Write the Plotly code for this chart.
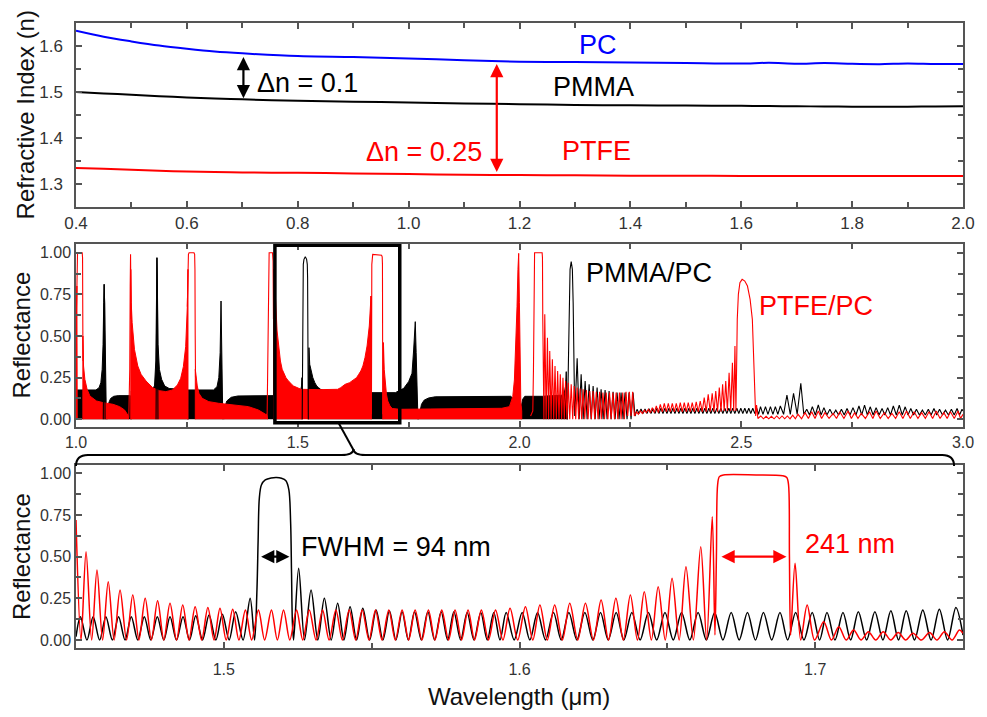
import plotly.graph_objects as go

FONT = "Liberation Sans, Arial, Helvetica, sans-serif"

# ---------------- DATA ----------------
# Top panel: refractive index dispersion
wl_index = [0.40, 0.45, 0.50, 0.55, 0.60, 0.65, 0.70, 0.80, 0.90, 1.00, 1.10, 1.20,
            1.30, 1.40, 1.50, 1.60, 1.65, 1.70, 1.75, 1.80, 1.85, 1.90, 1.95, 2.00]
n_pc = [1.633, 1.620, 1.610, 1.601, 1.594, 1.588, 1.584, 1.578, 1.576, 1.573, 1.569, 1.566,
        1.565, 1.564, 1.563, 1.562, 1.5635, 1.5615, 1.5628, 1.5612, 1.5605, 1.5618, 1.5608, 1.5610]
n_pmma = [1.500, 1.497, 1.494, 1.491, 1.488, 1.486, 1.484, 1.481, 1.479, 1.477, 1.475, 1.4735,
          1.472, 1.471, 1.4705, 1.470, 1.4695, 1.469, 1.4685, 1.468, 1.4682, 1.468, 1.4685, 1.469]
n_ptfe = [1.335, 1.333, 1.331, 1.329, 1.327, 1.326, 1.325, 1.3243, 1.323, 1.3215, 1.320, 1.3195,
          1.319, 1.318, 1.3178, 1.3175, 1.3174, 1.3174, 1.3174, 1.3174, 1.3174, 1.3174, 1.3174, 1.3174]

# Middle panel: dense (unresolved) fringe regions given as envelopes (wavelength, R)
pmma_mid_envelopes = [
    [(1.000, 0), (1.000, 0.17), (1.003, 0.176), (1.045, 0.176), (1.052, 0.19), (1.056, 0.22),
     (1.059, 0.30), (1.061, 0.45), (1.0625, 0.70), (1.0635, 0.81), (1.0645, 0.70), (1.0655, 0.45),
     (1.067, 0.15), (1.0685, 0)],
    [(1.070, 0), (1.071, 0.06), (1.074, 0.10), (1.078, 0.125), (1.085, 0.138), (1.095, 0.142),
     (1.1225, 0.142), (1.1235, 0)],
    [(1.1245, 0), (1.1245, 0.17), (1.170, 0.176), (1.177, 0.20), (1.180, 0.35), (1.1815, 0.80),
     (1.1825, 0.97), (1.1835, 0.80), (1.185, 0.45), (1.188, 0.30), (1.193, 0.24), (1.200, 0.20),
     (1.210, 0.185), (1.235, 0.18), (1.252, 0.18), (1.2525, 0)],
    [(1.253, 0), (1.253, 0.176), (1.310, 0.176), (1.318, 0.196), (1.322, 0.25), (1.325, 0.40),
     (1.327, 0.71), (1.3285, 0.40), (1.330, 0.05), (1.331, 0)],
    [(1.333, 0), (1.335, 0.07), (1.340, 0.11), (1.350, 0.132), (1.365, 0.14), (1.445, 0.142),
     (1.4455, 0)],
    [(1.446, 0), (1.446, 0.14), (1.505, 0.15), (1.5085, 0.20), (1.5095, 0.25), (1.510, 0.10),
     (1.510, 0)],
    [(1.5236, 0), (1.5245, 0.25), (1.5253, 0.43), (1.527, 0.33), (1.5295, 0.30), (1.534, 0.25),
     (1.5385, 0.22), (1.5427, 0.20), (1.547, 0.19), (1.5515, 0.18), (1.560, 0.17), (1.600, 0.16),
     (1.720, 0.16), (1.739, 0.186), (1.750, 0.226), (1.7576, 0.276), (1.7613, 0.416),
     (1.765, 0.586), (1.767, 0.40), (1.769, 0.15), (1.771, 0.02), (1.771, 0)],
    [(1.772, 0), (1.775, 0.04), (1.779, 0.09), (1.785, 0.115), (1.795, 0.128), (1.810, 0.135),
     (1.980, 0.138), (1.988, 0.12), (1.993, 0.06), (1.998, 0.04), (2.003, 0.06), (2.007, 0.12),
     (2.012, 0.138), (2.052, 0.138), (2.060, 0.14), (2.100, 0.145), (2.104, 0.20), (2.1054, 0.286),
     (2.107, 0.10), (2.108, 0)],
]
ptfe_mid_envelopes = [
    [(1.000, 0), (1.000, 0.50), (1.002, 0.80), (1.0028, 0)],
    [(1.0155, 0), (1.0155, 0.50), (1.017, 0.32), (1.020, 0.24), (1.025, 0.18), (1.0313, 0.14),
     (1.0462, 0.11), (1.0611, 0.10), (1.0834, 0.09), (1.0983, 0.076), (1.1095, 0.056),
     (1.1169, 0.026), (1.119, 0.01), (1.119, 0)],
    [(1.1235, 0), (1.1235, 0.90), (1.1245, 0.70), (1.1266, 0.58), (1.1318, 0.42), (1.1393, 0.32),
     (1.1467, 0.27), (1.1579, 0.23), (1.1728, 0.19), (1.1877, 0.172), (1.2026, 0.166),
     (1.2175, 0.176), (1.2287, 0.206), (1.2361, 0.246), (1.2421, 0.316), (1.2473, 0.436),
     (1.251, 0.676), (1.2525, 0.90), (1.2525, 0)],
    [(1.269, 0), (1.269, 0.30), (1.2734, 0.20), (1.2771, 0.156), (1.2845, 0.126), (1.2994, 0.106),
     (1.3218, 0.096), (1.359, 0.086), (1.3888, 0.076), (1.4112, 0.056), (1.4223, 0.036),
     (1.4276, 0.03), (1.431, 0.03), (1.432, 0)],
    [(1.4455, 0), (1.4455, 0.90), (1.4475, 0.80), (1.450, 0.72), (1.4534, 0.53), (1.4571, 0.42),
     (1.4609, 0.35), (1.4649, 0.30), (1.4692, 0.27), (1.4734, 0.25), (1.4776, 0.235),
     (1.4818, 0.22), (1.4861, 0.21), (1.4903, 0.20), (1.4946, 0.195), (1.4987, 0.19),
     (1.503, 0.185), (1.5073, 0.18), (1.550, 0.178), (1.590, 0.18), (1.5968, 0.19), (1.602, 0.20),
     (1.6069, 0.21), (1.617, 0.22), (1.6276, 0.24), (1.6326, 0.25), (1.6375, 0.27),
     (1.6422, 0.29), (1.6469, 0.32), (1.6516, 0.37), (1.6563, 0.44), (1.6613, 0.56),
     (1.6652, 0.74), (1.666, 0.30), (1.666, 0)],
    [(1.6917, 0), (1.6917, 0.30), (1.6932, 0.46), (1.695, 0.30), (1.6973, 0.21), (1.700, 0.15),
     (1.7029, 0.11), (1.708, 0.08), (1.713, 0.065), (1.730, 0.06), (1.800, 0.062), (1.900, 0.064),
     (1.960, 0.066), (1.9773, 0.076), (1.9848, 0.136), (1.9885, 0.236), (1.9922, 0.476),
     (1.9944, 0.676), (1.9965, 0.90), (1.9982, 0.996), (1.9998, 0.70), (2.001, 0.30),
     (2.003, 0.10), (2.005, 0.05), (2.005, 0)],
]

# Middle panel: resolved features (stop bands, peaks, fringes) as line segments
pmma_mid_lines = [
    [(1.0615, 0.0), (1.0625, 0.70), (1.0635, 0.81), (1.0645, 0.70), (1.0655, 0.0)],
    [(1.1805, 0.0), (1.1815, 0.80), (1.1825, 0.97), (1.1835, 0.80), (1.1848, 0.0)],
    [(1.5100, 0.0), (1.5108, 0.30), (1.5113, 0.60), (1.5118, 0.85), (1.5125, 0.93), (1.5140, 0.96),
     (1.5170, 0.975), (1.5200, 0.96), (1.5215, 0.93), (1.5222, 0.85), (1.5227, 0.60),
     (1.5232, 0.30), (1.5238, 0.0)],
    [(2.1080, 0.0), (2.1100, 0.30), (2.1120, 0.70), (2.1140, 0.90), (2.1166, 0.946), (2.1192, 0.90),
     (2.1210, 0.70), (2.1228, 0.30), (2.1245, 0.02), (2.1300, 0.366), (2.1345, 0.0), (2.1390, 0.27),
     (2.1435, 0.0), (2.1480, 0.23), (2.1525, 0.0), (2.1570, 0.21), (2.1615, 0.0), (2.1660, 0.20),
     (2.1705, 0.0), (2.1750, 0.19), (2.1795, 0.0), (2.1840, 0.18), (2.1885, 0.0), (2.1930, 0.175),
     (2.1975, 0.0), (2.2020, 0.17), (2.2065, 0.0), (2.2110, 0.165), (2.2155, 0.0), (2.2200, 0.16),
     (2.2245, 0.0), (2.2290, 0.16), (2.2335, 0.0), (2.2380, 0.16), (2.2425, 0.0), (2.2470, 0.16),
     (2.2515, 0.0), (2.2560, 0.16), (2.2605, 0.02),
     (2.2650, 0.060), (2.2695, 0.035), (2.2740, 0.062), (2.2785, 0.035), (2.2830, 0.062),
     (2.2875, 0.035), (2.2920, 0.064), (2.2965, 0.035), (2.3010, 0.064), (2.3055, 0.035),
     (2.3100, 0.066), (2.3145, 0.035), (2.3190, 0.066), (2.3235, 0.035), (2.3280, 0.066),
     (2.3325, 0.035), (2.3370, 0.066), (2.3415, 0.035), (2.3460, 0.066), (2.3505, 0.035),
     (2.3550, 0.066), (2.3595, 0.035), (2.3640, 0.066), (2.3685, 0.035), (2.3730, 0.066),
     (2.3775, 0.035), (2.3820, 0.066), (2.3865, 0.035), (2.3910, 0.066), (2.3955, 0.035),
     (2.4000, 0.066), (2.4045, 0.035), (2.4090, 0.066), (2.4135, 0.035), (2.4180, 0.066),
     (2.4225, 0.035), (2.4270, 0.066), (2.4315, 0.035), (2.4360, 0.066), (2.4405, 0.035),
     (2.4450, 0.066), (2.4495, 0.035), (2.4540, 0.066), (2.4585, 0.035), (2.4630, 0.066),
     (2.4675, 0.035), (2.4720, 0.066), (2.4765, 0.035), (2.4810, 0.066), (2.4855, 0.035),
     (2.4900, 0.066), (2.4945, 0.035), (2.4990, 0.066), (2.5035, 0.035), (2.5080, 0.066),
     (2.5125, 0.035), (2.5170, 0.066), (2.5215, 0.035), (2.5260, 0.066), (2.5305, 0.035),
     (2.5350, 0.066), (2.5390, 0.030),
     (2.5434, 0.076), (2.5490, 0.030), (2.5546, 0.076), (2.5602, 0.030), (2.5658, 0.076),
     (2.5714, 0.030), (2.5769, 0.076), (2.5825, 0.030), (2.5881, 0.080), (2.5955, 0.030),
     (2.6030, 0.146), (2.6105, 0.030), (2.6179, 0.156), (2.6261, 0.030), (2.6343, 0.216),
     (2.6410, 0.030), (2.6477, 0.060), (2.6540, 0.026), (2.6603, 0.076), (2.6670, 0.026),
     (2.6737, 0.086), (2.6800, 0.026), (2.6864, 0.070), (2.6931, 0.026), (2.6998, 0.060),
     (2.7065, 0.026), (2.7132, 0.055), (2.7195, 0.026), (2.7259, 0.060), (2.7322, 0.026),
     (2.7385, 0.065), (2.7452, 0.026), (2.7519, 0.070), (2.7586, 0.026), (2.7654, 0.080),
     (2.7717, 0.026), (2.7780, 0.085), (2.7843, 0.026), (2.7907, 0.075), (2.7974, 0.026),
     (2.8041, 0.070), (2.8108, 0.026), (2.8175, 0.065), (2.8238, 0.026), (2.8302, 0.070),
     (2.8365, 0.026), (2.8429, 0.080), (2.8496, 0.026), (2.8563, 0.085), (2.8630, 0.026),
     (2.8697, 0.075), (2.8760, 0.026), (2.8823, 0.065), (2.8886, 0.026), (2.8950, 0.060),
     (2.9017, 0.026), (2.9084, 0.055), (2.9151, 0.026), (2.9218, 0.060), (2.9281, 0.026),
     (2.9345, 0.065), (2.9408, 0.026), (2.9471, 0.060), (2.9538, 0.026), (2.9605, 0.055),
     (2.9672, 0.026), (2.9739, 0.060), (2.9802, 0.026), (2.9866, 0.065), (2.9922, 0.026),
     (2.9978, 0.060), (3.0000, 0.050)],
]
ptfe_mid_lines = [
    [(1.0000, 0.50), (1.0015, 0.70), (1.0025, 0.97), (1.0035, 1.00), (1.0140, 1.00), (1.0148, 0.97),
     (1.0155, 0.50), (1.0160, 0.35)],
    [(1.1190, 0.01), (1.1212, 0.30), (1.1222, 0.80), (1.1230, 0.99), (1.1237, 0.80), (1.1245, 0.60)],
    [(1.2510, 0.676), (1.2525, 0.93), (1.2535, 0.99), (1.2550, 1.00), (1.2660, 1.00), (1.2675, 0.99),
     (1.2682, 0.90), (1.2688, 0.50), (1.2695, 0.25)],
    [(1.4310, 0.03), (1.4330, 0.50), (1.4340, 0.95), (1.4355, 1.00), (1.4430, 1.00), (1.4443, 0.95),
     (1.4452, 0.60), (1.4458, 0.90)],
    [(1.6652, 0.74), (1.6661, 0.03), (1.6666, 0.50), (1.6670, 0.93), (1.6676, 0.98), (1.6690, 0.99),
     (1.6890, 0.985), (1.6904, 0.975), (1.6910, 0.93), (1.6913, 0.50), (1.6917, 0.03),
     (1.6932, 0.46)],
    [(2.0250, 0.02), (2.0300, 0.05), (2.0315, 0.30), (2.0325, 0.70), (2.0332, 0.97), (2.0340, 1.00),
     (2.0510, 1.00), (2.0518, 0.97), (2.0525, 0.60), (2.0535, 0.20), (2.0550, 0.0), (2.0570, 0.63),
     (2.0600, 0.0), (2.0630, 0.49), (2.0656, 0.0), (2.0682, 0.41), (2.0712, 0.0), (2.0741, 0.36),
     (2.0771, 0.0), (2.0801, 0.32), (2.0831, 0.0), (2.0860, 0.29), (2.0890, 0.0), (2.0920, 0.27),
     (2.0950, 0.0), (2.0980, 0.25), (2.1010, 0.0), (2.1039, 0.23), (2.1069, 0.0), (2.1099, 0.22),
     (2.1133, 0.0), (2.1166, 0.21), (2.1200, 0.0), (2.1233, 0.20), (2.1267, 0.0), (2.1300, 0.19),
     (2.1334, 0.0), (2.1367, 0.185), (2.1401, 0.0), (2.1434, 0.18), (2.1471, 0.0), (2.1508, 0.175),
     (2.1546, 0.0), (2.1583, 0.17), (2.1620, 0.0), (2.1658, 0.17), (2.1695, 0.0), (2.1732, 0.165),
     (2.1770, 0.0), (2.1807, 0.165), (2.1844, 0.0), (2.1881, 0.16), (2.1918, 0.0), (2.1955, 0.16),
     (2.1993, 0.0), (2.2030, 0.16), (2.2067, 0.0), (2.2104, 0.16), (2.2142, 0.0), (2.2179, 0.16),
     (2.2216, 0.0), (2.2253, 0.16), (2.2291, 0.0), (2.2328, 0.16), (2.2365, 0.0), (2.2402, 0.165),
     (2.2440, 0.02), (2.2477, 0.165), (2.2514, 0.02), (2.2551, 0.165), (2.2590, 0.02),
     (2.2640, 0.045), (2.2680, 0.030), (2.2725, 0.050), (2.2770, 0.035), (2.2815, 0.055),
     (2.2860, 0.040), (2.2905, 0.060), (2.2950, 0.040), (2.2995, 0.070), (2.3040, 0.040),
     (2.3085, 0.080), (2.3130, 0.040), (2.3175, 0.090), (2.3220, 0.045), (2.3265, 0.095),
     (2.3310, 0.045), (2.3355, 0.095), (2.3400, 0.045), (2.3445, 0.095), (2.3490, 0.045),
     (2.3535, 0.095), (2.3580, 0.045), (2.3625, 0.100), (2.3670, 0.045), (2.3715, 0.100),
     (2.3760, 0.045), (2.3805, 0.100), (2.3850, 0.045), (2.3895, 0.100), (2.3940, 0.045),
     (2.3985, 0.105), (2.4030, 0.045), (2.4075, 0.110), (2.4120, 0.045), (2.4165, 0.130),
     (2.4210, 0.045), (2.4255, 0.150), (2.4300, 0.045), (2.4345, 0.156), (2.4385, 0.045),
     (2.4425, 0.170), (2.4465, 0.045), (2.4505, 0.190), (2.4543, 0.045), (2.4580, 0.210),
     (2.4615, 0.050), (2.4650, 0.230), (2.4688, 0.050), (2.4726, 0.280), (2.4763, 0.050),
     (2.4801, 0.340), (2.4830, 0.050), (2.4858, 0.440), (2.4880, 0.050),
     (2.4895, 0.30), (2.4910, 0.60), (2.4935, 0.75), (2.4970, 0.82), (2.5020, 0.84), (2.5080, 0.83),
     (2.5140, 0.80), (2.5200, 0.72), (2.5250, 0.60), (2.5280, 0.40), (2.5305, 0.15), (2.5325, 0.02),
     (2.5345, 0.086), (2.5375, 0.005), (2.5440, 0.020), (2.5500, 0.003), (2.5560, 0.018),
     (2.5620, 0.003), (2.5680, 0.018), (2.5740, 0.003), (2.5800, 0.020), (2.5860, 0.003),
     (2.5920, 0.020), (2.5980, 0.003), (2.6040, 0.020), (2.6100, 0.003), (2.6160, 0.025),
     (2.6220, 0.003), (2.6280, 0.030), (2.6360, 0.003), (2.6439, 0.040), (2.6514, 0.005),
     (2.6588, 0.045), (2.6663, 0.005), (2.6737, 0.050), (2.6812, 0.005), (2.6886, 0.040),
     (2.6980, 0.005), (2.7073, 0.035), (2.7148, 0.005), (2.7222, 0.045), (2.7315, 0.005),
     (2.7408, 0.050), (2.7483, 0.005), (2.7557, 0.040), (2.7632, 0.005), (2.7706, 0.035),
     (2.7799, 0.005), (2.7892, 0.045), (2.7967, 0.005), (2.8041, 0.050), (2.8134, 0.005),
     (2.8227, 0.040), (2.8313, 0.005), (2.8398, 0.035), (2.8480, 0.005), (2.8562, 0.045),
     (2.8644, 0.005), (2.8726, 0.050), (2.8812, 0.005), (2.8898, 0.045), (2.8984, 0.005),
     (2.9069, 0.040), (2.9151, 0.005), (2.9233, 0.045), (2.9315, 0.005), (2.9397, 0.050),
     (2.9483, 0.005), (2.9568, 0.040), (2.9643, 0.005), (2.9717, 0.045), (2.9803, 0.005),
     (2.9888, 0.050), (2.9944, 0.005), (3.0000, 0.030)],
]

# Bottom panel: zoom 1.45-1.75 um
pmma_zoom = [
    (1.4500, 0.02), (1.4515, 0.14), (1.4537, 0.0), (1.4558, 0.14), (1.4580, 0.0), (1.4601, 0.14),
    (1.4623, 0.0), (1.4644, 0.14), (1.4666, 0.0), (1.4687, 0.14), (1.4709, 0.0), (1.4731, 0.14),
    (1.4753, 0.0), (1.4775, 0.14), (1.4797, 0.0), (1.4818, 0.14), (1.4840, 0.0), (1.4862, 0.14),
    (1.4884, 0.0), (1.4905, 0.145), (1.4928, 0.0), (1.4950, 0.15), (1.4973, 0.0), (1.4995, 0.155),
    (1.5018, 0.0), (1.5040, 0.17), (1.5065, 0.0), (1.5089, 0.25), (1.5104, 0.0), (1.5112, 0.30),
    (1.5116, 0.60), (1.5120, 0.85), (1.5127, 0.93), (1.5140, 0.96), (1.5160, 0.972), (1.5178, 0.975),
    (1.5195, 0.97), (1.5210, 0.955), (1.5220, 0.90), (1.5226, 0.70), (1.5229, 0.40), (1.5232, 0.10),
    (1.5236, 0.0), (1.5253, 0.43), (1.5273, 0.0), (1.5295, 0.30), (1.5318, 0.0), (1.5340, 0.25),
    (1.5363, 0.0), (1.5385, 0.22), (1.5406, 0.0), (1.5427, 0.20), (1.5449, 0.0), (1.5470, 0.19),
    (1.5493, 0.0), (1.5515, 0.18), (1.5538, 0.0), (1.5560, 0.175), (1.5582, 0.0), (1.5603, 0.17),
    (1.5624, 0.0), (1.5645, 0.17), (1.5668, 0.0), (1.5690, 0.17), (1.5713, 0.0), (1.5735, 0.17),
    (1.5757, 0.0), (1.5778, 0.17), (1.5801, 0.0), (1.5823, 0.165), (1.5846, 0.0), (1.5869, 0.165),
    (1.5891, 0.0), (1.5913, 0.165), (1.5934, 0.0), (1.5955, 0.165), (1.5982, 0.0), (1.6009, 0.165),
    (1.6035, 0.0), (1.6061, 0.165), (1.6088, 0.0), (1.6115, 0.165), (1.6141, 0.0), (1.6167, 0.165),
    (1.6194, 0.0), (1.6221, 0.165), (1.6248, 0.0), (1.6274, 0.165), (1.6300, 0.0), (1.6327, 0.165),
    (1.6353, 0.0), (1.6380, 0.165), (1.6408, 0.0), (1.6436, 0.165), (1.6464, 0.0), (1.6492, 0.165),
    (1.6520, 0.0), (1.6548, 0.165), (1.6576, 0.0), (1.6604, 0.165), (1.6632, 0.0), (1.6660, 0.165),
    (1.6688, 0.0), (1.6716, 0.165), (1.6743, 0.0), (1.6771, 0.165), (1.6798, 0.0), (1.6825, 0.165),
    (1.6853, 0.0), (1.6881, 0.165), (1.6907, 0.0), (1.6934, 0.165), (1.6962, 0.0), (1.6990, 0.165),
    (1.7015, 0.0), (1.7040, 0.165), (1.7067, 0.0), (1.7094, 0.165), (1.7120, 0.0), (1.7146, 0.17),
    (1.7174, 0.0), (1.7202, 0.17), (1.7229, 0.0), (1.7256, 0.175), (1.7282, 0.0), (1.7308, 0.175),
    (1.7336, 0.0), (1.7364, 0.18), (1.7392, 0.0), (1.7420, 0.185), (1.7448, 0.0), (1.7476, 0.195),
    (1.7500, 0.03),
]
ptfe_zoom = [
    (1.4500, 0.72), (1.4517, 0.0), (1.4534, 0.53), (1.4553, 0.0), (1.4571, 0.42), (1.4590, 0.0),
    (1.4609, 0.35), (1.4629, 0.0), (1.4649, 0.30), (1.4671, 0.0), (1.4692, 0.27), (1.4713, 0.0),
    (1.4734, 0.25), (1.4755, 0.0), (1.4776, 0.235), (1.4797, 0.0), (1.4818, 0.22), (1.4840, 0.0),
    (1.4861, 0.21), (1.4882, 0.0), (1.4903, 0.20), (1.4925, 0.0), (1.4946, 0.195), (1.4967, 0.0),
    (1.4987, 0.19), (1.5008, 0.0), (1.5030, 0.185), (1.5051, 0.0), (1.5073, 0.18), (1.5094, 0.0),
    (1.5117, 0.18), (1.5138, 0.0), (1.5161, 0.18), (1.5181, 0.0), (1.5202, 0.18), (1.5223, 0.0),
    (1.5246, 0.18), (1.5267, 0.0), (1.5289, 0.18), (1.5312, 0.0), (1.5334, 0.18), (1.5356, 0.0),
    (1.5379, 0.18), (1.5401, 0.0), (1.5424, 0.18), (1.5446, 0.0), (1.5468, 0.18), (1.5491, 0.0),
    (1.5513, 0.18), (1.5535, 0.0), (1.5558, 0.18), (1.5580, 0.0), (1.5603, 0.18), (1.5625, 0.0),
    (1.5647, 0.18), (1.5670, 0.0), (1.5692, 0.18), (1.5714, 0.0), (1.5737, 0.18), (1.5760, 0.0),
    (1.5782, 0.18), (1.5804, 0.0), (1.5826, 0.18), (1.5848, 0.0), (1.5871, 0.18), (1.5895, 0.0),
    (1.5919, 0.18), (1.5944, 0.0), (1.5968, 0.19), (1.5994, 0.0), (1.6020, 0.20), (1.6045, 0.0),
    (1.6069, 0.21), (1.6094, 0.0), (1.6119, 0.21), (1.6145, 0.0), (1.6170, 0.22), (1.6197, 0.0),
    (1.6223, 0.22), (1.6250, 0.0), (1.6276, 0.24), (1.6301, 0.0), (1.6326, 0.25), (1.6351, 0.0),
    (1.6375, 0.27), (1.6399, 0.0), (1.6422, 0.29), (1.6446, 0.0), (1.6469, 0.32), (1.6493, 0.0),
    (1.6516, 0.37), (1.6540, 0.0), (1.6563, 0.44), (1.6588, 0.0), (1.6613, 0.56), (1.6633, 0.0),
    (1.6652, 0.74), (1.6661, 0.03), (1.6666, 0.50), (1.6670, 0.93), (1.6676, 0.98), (1.6690, 0.99),
    (1.6800, 0.99), (1.6890, 0.985), (1.6904, 0.975), (1.6910, 0.93), (1.6913, 0.50), (1.6917, 0.03),
    (1.6932, 0.46), (1.6951, 0.0), (1.6973, 0.21), (1.6998, 0.0), (1.7029, 0.11), (1.7055, 0.0),
    (1.7080, 0.08), (1.7105, 0.0), (1.7130, 0.06), (1.7155, 0.0), (1.7180, 0.05), (1.7205, 0.0),
    (1.7230, 0.05), (1.7256, 0.0), (1.7281, 0.045), (1.7306, 0.0), (1.7331, 0.04), (1.7359, 0.0),
    (1.7387, 0.045), (1.7412, 0.0), (1.7437, 0.05), (1.7463, 0.0), (1.7488, 0.06), (1.7500, 0.04),
]

# ---------------- helpers ----------------
L, R, T, B = 76, 16, 23, 69
W, H = 987, 717
PW, PH = W - L - R, H - T - B


def px(x):
    return (x - L) / PW


def py(y):
    return (H - B - y) / PH


def segs(segments):
    xs, ys = [], []
    for s in segments:
        for a, b in s:
            xs.append(a)
            ys.append(b)
        xs.append(None)
        ys.append(None)
    return xs, ys


def unzip(pairs):
    return [p[0] for p in pairs], [p[1] for p in pairs]


BLACK, RED, BLUE = "#000000", "#ff0000", "#0000ff"

fig = go.Figure()

# top panel
for yv, col in [(n_pc, BLUE), (n_pmma, BLACK), (n_ptfe, RED)]:
    fig.add_trace(go.Scatter(x=wl_index, y=yv, mode="lines", xaxis="x", yaxis="y",
                             line=dict(color=col, width=2, shape="spline", smoothing=0.8),
                             hoverinfo="skip"))

# middle panel
bx, by = segs(pmma_mid_envelopes)
fig.add_trace(go.Scatter(x=bx, y=by, mode="lines", fill="toself", fillcolor=BLACK,
                         line=dict(color=BLACK, width=1), xaxis="x2", yaxis="y2", hoverinfo="skip"))
rx, ry = segs(ptfe_mid_envelopes)
fig.add_trace(go.Scatter(x=rx, y=ry, mode="lines", fill="toself", fillcolor=RED,
                         line=dict(color=RED, width=1), xaxis="x2", yaxis="y2", hoverinfo="skip"))
blx, bly = segs(pmma_mid_lines)
fig.add_trace(go.Scatter(x=blx, y=bly, mode="lines", line=dict(color=BLACK, width=1.1),
                         xaxis="x2", yaxis="y2", hoverinfo="skip"))
rlx, rly = segs(ptfe_mid_lines)
fig.add_trace(go.Scatter(x=rlx, y=rly, mode="lines", line=dict(color=RED, width=1.1),
                         xaxis="x2", yaxis="y2", hoverinfo="skip"))

# bottom panel
zx, zy = unzip(pmma_zoom)
fig.add_trace(go.Scatter(x=zx, y=zy, mode="lines", xaxis="x3", yaxis="y3", hoverinfo="skip",
                         line=dict(color=BLACK, width=1.5, shape="spline", smoothing=0.9)))
zx, zy = unzip(ptfe_zoom)
fig.add_trace(go.Scatter(x=zx, y=zy, mode="lines", xaxis="x3", yaxis="y3", hoverinfo="skip",
                         line=dict(color=RED, width=1.5, shape="spline", smoothing=0.9)))

AX = "#555555"
TICKFONT = dict(family=FONT, size=16, color="#333333")


def axis(**kw):
    d = dict(showline=True, linecolor=AX, linewidth=1.5, mirror="ticks", ticks="inside",
             ticklen=6, tickwidth=1.5, tickcolor=AX, showgrid=False, zeroline=False,
             tickfont=TICKFONT, fixedrange=True)
    d.update(kw)
    return d


def minor(dt):
    return dict(ticks="inside", ticklen=5, tickwidth=1.5, tickcolor=AX, dtick=dt, showgrid=False)


dom_top = [py(207), 1.0]
dom_mid = [py(426.7), py(244)]
dom_bot = [0.0, py(465)]

fig.update_layout(
    width=W, height=H, margin=dict(l=L, r=R, t=T, b=B),
    paper_bgcolor="white", plot_bgcolor="white", showlegend=False,
    font=dict(family=FONT),
    xaxis=axis(domain=[0, 1], anchor="y", range=[0.4, 2.0], tick0=0.4, dtick=0.2,
               tickformat=".1f", minor=minor(0.1), tickfont=dict(family=FONT, size=17, color="#333")),
    yaxis=axis(domain=dom_top, anchor="x", range=[1.25, 1.65], tick0=1.3, dtick=0.1,
               tickformat=".1f", minor=minor(0.05), ticklabelstandoff=8,
               tickfont=dict(family=FONT, size=17, color="#333")),
    xaxis2=axis(domain=[0, 1], anchor="y2", range=[1.0, 3.0], tick0=1.0, dtick=0.5,
                tickformat=".1f", minor=minor(0.25)),
    yaxis2=axis(domain=dom_mid, anchor="x2", range=[-0.0444, 1.0522], tick0=0, dtick=0.25,
                tickformat=".2f", minor=minor(0.125)),
    xaxis3=axis(domain=[0, 1], anchor="y3", range=[1.45, 1.75], tick0=1.5, dtick=0.1,
                tickformat=".1f", minor=minor(0.05), ticklabelstandoff=6),
    yaxis3=axis(domain=dom_bot, anchor="x3", range=[-0.048, 1.0498], tick0=0, dtick=0.25,
                tickformat=".2f", minor=minor(0.125)),
)

# zoom box, connector and brace
fig.add_shape(type="rect", xref="x2", yref="y2", x0=1.4485, x1=1.730, y0=-0.021, y1=1.045,
              line=dict(color=BLACK, width=3.5), fillcolor="rgba(0,0,0,0)", layer="above")
fig.add_shape(type="line", xref="paper", yref="paper", x0=px(341), y0=py(423), x1=px(356),
              y1=py(450), line=dict(color=BLACK, width=2))


def P(x, y):
    return f"{px(x):.5f},{py(y):.5f}"


brace = (f"M {P(76, 466)} Q {P(76, 455)} {P(88, 455)} L {P(344, 455)} "
         f"Q {P(356, 455)} {P(356, 449)} Q {P(356, 455)} {P(368, 455)} "
         f"L {P(950, 455)} Q {P(962, 455)} {P(962, 466)}")
fig.add_shape(type="path", xref="paper", yref="paper", path=brace,
              line=dict(color=BLACK, width=2))

ann = []


def label(text, x, y, color, size=27):
    ann.append(dict(text=text, x=px(x), y=py(y), xref="paper", yref="paper", xanchor="left",
                    yanchor="middle", showarrow=False, font=dict(family=FONT, size=size, color=color)))


label("PC", 582, 45, BLUE)
label("PMMA", 555, 87, BLACK)
label("PTFE", 564, 151, RED)
label("Δn = 0.1", 257, 83, BLACK)
label("Δn = 0.25", 367, 152, RED)
label("PMMA/PC", 589, 273, BLACK)
label("PTFE/PC", 763, 306, RED)
label("FWHM = 94 nm", 301, 547, BLACK)
label("241 nm", 810, 544, RED)


def arrow(x0, y0, x1, y1, xr, yr, color):
    ann.append(dict(x=x1, y=y1, ax=x0, ay=y0, xref=xr, yref=yr, axref=xr, ayref=yr, text="",
                    showarrow=True, arrowhead=2, startarrowhead=2, arrowside="end+start",
                    arrowsize=1.2, arrowwidth=2.2, arrowcolor=color, standoff=0, startstandoff=0))


arrow(0.702, 1.483, 0.702, 1.576, "x", "y", BLACK)
arrow(1.159, 1.323, 1.159, 1.561, "x", "y", RED)
arrow(1.5121, 0.5, 1.5222, 0.5, "x3", "y3", BLACK)
arrow(1.6678, 0.5, 1.6903, 0.5, "x3", "y3", RED)

# axis titles
for text, x, y in [("Refractive Index (n)", 25, 115), ("Reflectance", 21, 335),
                   ("Reflectance", 21, 556.5)]:
    ann.append(dict(text=text, x=px(x), y=py(y), xref="paper", yref="paper", textangle=-90,
                    xanchor="center", yanchor="middle", showarrow=False,
                    font=dict(family=FONT, size=24, color="#111111")))
ann.append(dict(text="Wavelength (μm)", x=px(523), y=py(696), xref="paper", yref="paper",
                xanchor="center", yanchor="middle", showarrow=False,
                font=dict(family=FONT, size=24, color="#111111")))

fig.update_layout(annotations=ann)
fig.write_html("out.html")
